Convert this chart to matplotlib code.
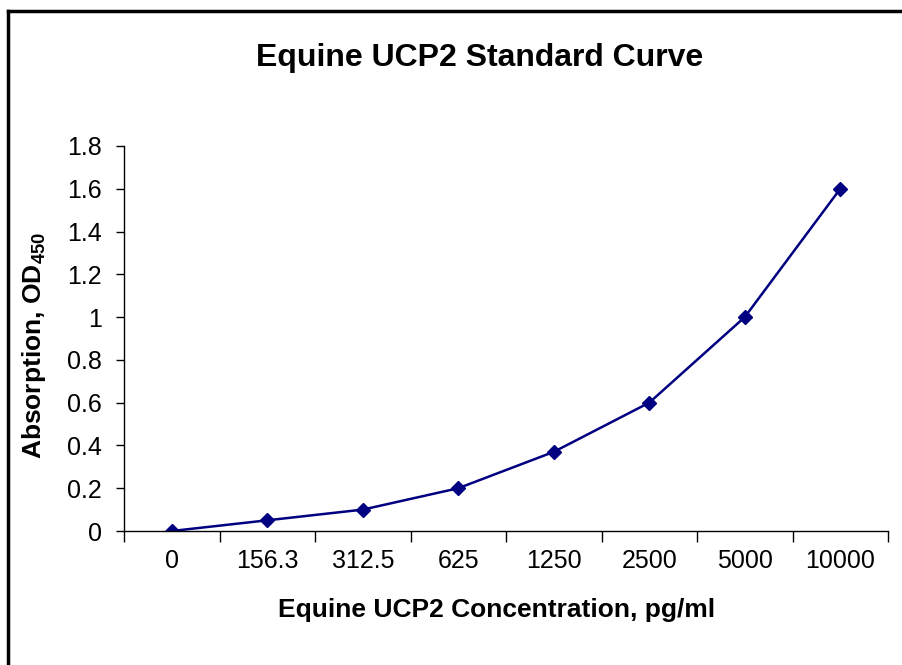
import matplotlib.pyplot as plt
from matplotlib.lines import Line2D
import numpy as np

plt.rcParams['font.family'] = ['Liberation Sans', 'DejaVu Sans']
plt.rcParams['mathtext.fontset'] = 'custom'
plt.rcParams['mathtext.bf'] = 'Liberation Sans:bold'
plt.rcParams['mathtext.rm'] = 'Liberation Sans'

# Standard curve data
concentrations = ['0', '156.3', '312.5', '625', '1250', '2500', '5000', '10000']
absorbance = [0.0, 0.05, 0.1, 0.2, 0.37, 0.6, 1.0, 1.6]
y_ticks = [0, 0.2, 0.4, 0.6, 0.8, 1, 1.2, 1.4, 1.6, 1.8]
y_tick_labels = ['0', '0.2', '0.4', '0.6', '0.8', '1', '1.2', '1.4', '1.6', '1.8']

fig = plt.figure(figsize=(9.02, 6.65), dpi=100)
ax = fig.add_axes([0.1375, 0.2015, 0.847, 0.579])

x = np.arange(len(concentrations))
ax.plot(x, absorbance, color='#000080', linewidth=1.8, marker='D', markersize=7.5)

ax.set_xlim(-0.5, len(concentrations) - 0.5)
ax.set_ylim(0, 1.8)
ax.set_yticks(y_ticks)
ax.set_yticklabels(y_tick_labels, fontsize=18)
ax.set_xticks(x)
ax.set_xticklabels(concentrations, fontsize=18)
ax.tick_params(axis='x', which='major', length=0, pad=13)
ax.set_xticks(np.arange(-0.5, len(concentrations)), minor=True)
ax.tick_params(axis='x', which='minor', length=8, width=1, direction='out')
ax.tick_params(axis='y', length=6, width=1, direction='out', pad=10)

for side in ['top', 'right']:
    ax.spines[side].set_visible(False)
ax.spines['left'].set_linewidth(1)
ax.spines['bottom'].set_linewidth(1)

fig.text(0.532, 0.913, 'Equine UCP2 Standard Curve', ha='center', va='center',
         fontsize=23, fontweight='bold')
fig.text(0.551, 0.083, 'Equine UCP2 Concentration, pg/ml', ha='center', va='center',
         fontsize=19, fontweight='bold')
fig.text(0.038, 0.481, r'Absorption, OD$_\mathbf{450}$', ha='center', va='center',
         rotation=90, fontsize=19, fontweight='bold')

# figure frame (top and left edges visible)
fig.add_artist(Line2D([8 / 902, 8 / 902], [0, 1 - 11 / 665], color='black', linewidth=2.5,
                      transform=fig.transFigure))
fig.add_artist(Line2D([8 / 902, 1], [1 - 11 / 665, 1 - 11 / 665], color='black', linewidth=2.5,
                      transform=fig.transFigure))

fig.savefig('out.png', dpi=100)
